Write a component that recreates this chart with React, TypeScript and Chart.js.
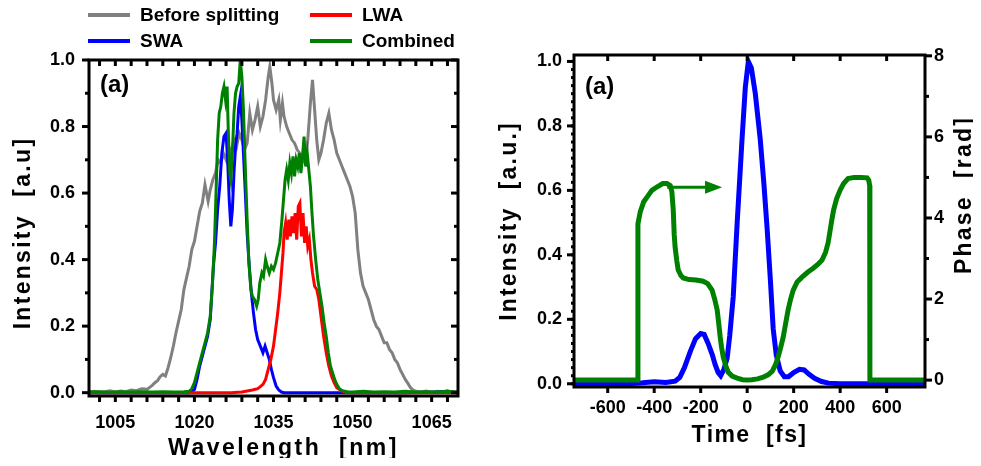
import React, { useEffect, useRef } from "react";
import { Chart, registerables } from "chart.js";

Chart.register(...registerables);

const FONT = "'Liberation Sans', Arial, Helvetica, sans-serif";
const GRAY = "#808080";
const RED = "#ff0000";
const BLUE = "#0000ff";
const GREEN = "#008000";

// ---------------- Panel 1: spectra (wavelength nm, intensity a.u.) ----------------
const beforeSplitting: [number, number][] = [
  [1000, 0.002], [1001, 0.004], [1002, 0.001], [1003, 0.003], [1004, 0.006], [1005, 0.002], [1006, 0.005],
  [1007, 0.003], [1008, 0.008], [1009, 0.006], [1010, 0.012], [1011, 0.01], [1011.5, 0.016], [1012, 0.022],
  [1012.5, 0.03], [1013, 0.036], [1013.5, 0.048], [1014, 0.055], [1014.5, 0.05], [1015, 0.075], [1015.5, 0.105],
  [1016, 0.14], [1016.5, 0.18], [1017, 0.215], [1017.5, 0.25], [1018, 0.31], [1018.5, 0.345], [1019, 0.38],
  [1019.5, 0.43], [1020, 0.455], [1020.5, 0.5], [1021, 0.545], [1021.5, 0.57], [1022, 0.625], [1022.3, 0.6],
  [1022.6, 0.575], [1023, 0.61], [1023.5, 0.64], [1024, 0.66], [1024.5, 0.7], [1025, 0.69], [1025.5, 0.72],
  [1026, 0.7], [1026.5, 0.74], [1027, 0.72], [1027.5, 0.76], [1028, 0.74], [1028.5, 0.78], [1029, 0.76],
  [1029.5, 0.73], [1030, 0.75], [1030.5, 0.84], [1031, 0.79], [1031.5, 0.82], [1032, 0.86], [1032.5, 0.8],
  [1033, 0.83], [1033.5, 0.88], [1034, 0.95], [1034.3, 0.98], [1034.7, 0.93], [1035, 0.88], [1035.5, 0.85],
  [1036, 0.88], [1036.3, 0.82], [1036.7, 0.87], [1037, 0.83], [1037.5, 0.8], [1038, 0.78], [1038.5, 0.76],
  [1039, 0.75], [1039.5, 0.73], [1040, 0.72], [1040.5, 0.7], [1041, 0.69], [1041.5, 0.76], [1042, 0.87],
  [1042.4, 0.94], [1042.8, 0.85], [1043.2, 0.76], [1043.6, 0.7], [1044, 0.72], [1044.5, 0.76], [1045, 0.81],
  [1045.5, 0.84], [1046, 0.79], [1046.5, 0.76], [1047, 0.72], [1047.5, 0.7], [1048, 0.68], [1048.5, 0.66],
  [1049, 0.64], [1049.5, 0.62], [1050, 0.59], [1050.5, 0.54], [1051, 0.43], [1051.5, 0.36], [1052, 0.32],
  [1052.5, 0.3], [1053, 0.28], [1053.5, 0.25], [1054, 0.22], [1054.5, 0.2], [1055, 0.19], [1055.5, 0.17],
  [1056, 0.15], [1056.5, 0.15], [1057, 0.13], [1057.5, 0.12], [1058, 0.1], [1058.5, 0.09], [1059, 0.07],
  [1059.5, 0.055], [1060, 0.04], [1060.5, 0.028], [1061, 0.015], [1061.5, 0.008], [1062, 0.004], [1063, 0.002],
  [1064, 0.005], [1065, 0.001], [1066, 0.004], [1067, 0.002], [1068, 0.005], [1069, 0.001], [1070, 0.003],
];

const swa: [number, number][] = [
  [1000, 0], [1010, 0], [1019, 0], [1019.5, 0.003], [1020, 0.01], [1020.5, 0.04], [1021, 0.08], [1021.5, 0.11],
  [1022, 0.14], [1022.5, 0.17], [1023, 0.22], [1023.3, 0.3], [1023.6, 0.38], [1024, 0.45], [1024.4, 0.55],
  [1024.8, 0.62], [1025.2, 0.72], [1025.6, 0.77], [1026, 0.78], [1026.3, 0.7], [1026.6, 0.58], [1026.9, 0.5],
  [1027.2, 0.55], [1027.5, 0.66], [1027.8, 0.74], [1028.1, 0.78], [1028.4, 0.86], [1028.7, 0.89], [1029, 0.82],
  [1029.3, 0.72], [1029.6, 0.62], [1030, 0.48], [1030.4, 0.38], [1030.8, 0.3], [1031.2, 0.24], [1031.6, 0.19],
  [1032, 0.16], [1032.5, 0.14], [1033, 0.12], [1033.4, 0.14], [1033.8, 0.12], [1034.2, 0.1], [1034.6, 0.07],
  [1035, 0.045], [1035.5, 0.02], [1036, 0.008], [1036.5, 0.002], [1037, 0], [1060, 0], [1066, 0.002], [1068, 0.004], [1070, 0],
];

const lwa: [number, number][] = [
  [1000, 0], [1019, 0], [1027, 0], [1029, 0.002], [1030, 0.005], [1031, 0.008], [1032, 0.012], [1032.5, 0.018],
  [1033, 0.025], [1033.5, 0.04], [1034, 0.07], [1034.5, 0.1], [1035, 0.14], [1035.4, 0.19], [1035.8, 0.24],
  [1036.2, 0.3], [1036.5, 0.36], [1036.8, 0.42], [1037, 0.48], [1037.3, 0.51], [1037.6, 0.46], [1037.9, 0.52],
  [1038.2, 0.47], [1038.5, 0.53], [1038.8, 0.48], [1039.1, 0.54], [1039.4, 0.46], [1039.7, 0.56], [1040, 0.57],
  [1040.3, 0.47], [1040.6, 0.54], [1040.9, 0.45], [1041.2, 0.5], [1041.5, 0.44], [1041.8, 0.46], [1042.1, 0.4],
  [1042.4, 0.36], [1042.8, 0.32], [1043.2, 0.31], [1043.6, 0.28], [1044, 0.23], [1044.5, 0.17], [1045, 0.12],
  [1045.5, 0.08], [1046, 0.05], [1046.5, 0.03], [1047, 0.015], [1048, 0.005], [1049, 0], [1070, 0],
];

const combined: [number, number][] = [
  [1000, 0.002], [1002, 0.003], [1004, 0.001], [1006, 0.003], [1008, 0.002], [1010, 0.003], [1012, 0.002],
  [1014, 0.003], [1016, 0.002], [1018, 0.003], [1019, 0.004], [1019.5, 0.012], [1020, 0.03], [1020.5, 0.06],
  [1021, 0.09], [1021.5, 0.12], [1022, 0.15], [1022.5, 0.18], [1023, 0.23], [1023.4, 0.32], [1023.8, 0.45],
  [1024.1, 0.6], [1024.4, 0.76], [1024.7, 0.84], [1025, 0.86], [1025.3, 0.9], [1025.6, 0.92], [1025.9, 0.88],
  [1026.2, 0.92], [1026.4, 0.8], [1026.7, 0.66], [1026.9, 0.64], [1027.2, 0.72], [1027.5, 0.84], [1027.8, 0.9],
  [1028.1, 0.92], [1028.4, 0.93], [1028.7, 1.0], [1029, 0.95], [1029.3, 0.85], [1029.6, 0.7], [1030, 0.52],
  [1030.3, 0.4], [1030.7, 0.31], [1031, 0.29], [1031.4, 0.28], [1031.8, 0.26], [1032.1, 0.28], [1032.4, 0.33],
  [1032.8, 0.36], [1033.1, 0.35], [1033.5, 0.4], [1033.8, 0.38], [1034.2, 0.36], [1034.6, 0.38], [1035, 0.37],
  [1035.4, 0.39], [1035.8, 0.42], [1036.2, 0.45], [1036.6, 0.52], [1036.9, 0.58], [1037.2, 0.64], [1037.5, 0.67],
  [1037.8, 0.64], [1038.1, 0.69], [1038.4, 0.66], [1038.7, 0.71], [1039, 0.65], [1039.3, 0.7], [1039.6, 0.68],
  [1039.9, 0.72], [1040.2, 0.66], [1040.5, 0.71], [1040.8, 0.77], [1041.1, 0.68], [1041.4, 0.72], [1041.7, 0.67],
  [1042, 0.62], [1042.3, 0.54], [1042.6, 0.47], [1043, 0.4], [1043.4, 0.34], [1043.8, 0.3], [1044.2, 0.26],
  [1044.6, 0.21], [1045, 0.17], [1045.4, 0.12], [1045.8, 0.08], [1046.2, 0.06], [1046.6, 0.04], [1047, 0.025],
  [1047.5, 0.012], [1048, 0.006], [1049, 0.003], [1050, 0.002], [1052, 0.004], [1054, 0.002], [1056, 0.003],
  [1058, 0.002], [1060, 0.004], [1062, 0.002], [1064, 0.003], [1066, 0.002], [1068, 0.004], [1070, 0.002],
];

const wavelengthTickLabels = [1005, 1020, 1035, 1050, 1065];
const intensityTickLabels = [0, 0.2, 0.4, 0.6, 0.8, 1.0];
const legendRows: [string, string][][] = [
  [["Before splitting", GRAY], ["LWA", RED]],
  [["SWA", BLUE], ["Combined", GREEN]],
];

// ---------------- Panel 2: temporal pulse (time fs) ----------------
const pulseIntensity: [number, number][] = [
  [-745, 0], [-600, 0.001], [-500, 0.001], [-450, 0.003], [-400, 0.006], [-350, 0.004], [-310, 0.008],
  [-290, 0.02], [-270, 0.05], [-245, 0.1], [-222, 0.14], [-200, 0.156], [-185, 0.153], [-168, 0.125],
  [-150, 0.09], [-138, 0.06], [-125, 0.035], [-114, 0.025], [-100, 0.045], [-86, 0.08], [-75, 0.15],
  [-60, 0.27], [-43, 0.5], [-22, 0.76], [-8, 0.92], [5, 1.0], [18, 0.98], [35, 0.9], [56, 0.76], [72, 0.62],
  [86, 0.48], [100, 0.32], [112, 0.17], [125, 0.09], [142, 0.04], [160, 0.022], [178, 0.022], [200, 0.035],
  [225, 0.045], [245, 0.043], [265, 0.03], [290, 0.017], [320, 0.007], [350, 0.002], [400, 0], [500, 0],
  [600, 0], [765, 0],
];

const pulsePhase: [number, number][] = [
  [-745, 0], [-600, 0], [-473, 0], [-470, 3.85], [-460, 4.15], [-445, 4.4], [-430, 4.52], [-410, 4.68],
  [-387, 4.77], [-363, 4.85], [-345, 4.85], [-331, 4.8], [-324, 4.65], [-318, 4.2], [-314, 3.6], [-310, 3.28],
  [-303, 2.95], [-297, 2.72], [-285, 2.58], [-275, 2.52], [-250, 2.48], [-220, 2.47], [-190, 2.44],
  [-170, 2.38], [-151, 2.22], [-140, 2.0], [-129, 1.73], [-122, 1.38], [-116, 1.06], [-110, 0.8], [-103, 0.57],
  [-92, 0.35], [-82, 0.2], [-65, 0.1], [-43, 0.05], [-20, 0.01], [0, 0], [20, 0.01], [45, 0.03], [69, 0.07],
  [90, 0.13], [108, 0.22], [122, 0.38], [133, 0.57], [144, 0.8], [155, 1.06], [165, 1.38], [176, 1.73],
  [187, 2.0], [198, 2.22], [215, 2.42], [236, 2.54], [260, 2.66], [284, 2.76], [305, 2.86], [322, 2.96],
  [337, 3.15], [348, 3.38], [357, 3.7], [365, 3.98], [372, 4.2], [385, 4.48], [400, 4.69], [415, 4.85],
  [434, 4.97], [460, 5.0], [490, 5.0], [516, 4.99], [523, 4.93], [527, 4.8], [528, 0], [765, 0],
];

const timeTickLabels = [-600, -400, -200, 0, 200, 400, 600];
const phaseTickLabels = [0, 2, 4, 6, 8];
const phaseArrowFrom: [number, number] = [-344, 4.76];
const phaseArrowTo: [number, number] = [-108, 4.76];

// ---------------- helpers ----------------
function range(start: number, stop: number, step: number): number[] {
  const out: number[] = [];
  const n = Math.round((stop - start) / step);
  for (let i = 0; i <= n; i++) out.push(Number((start + i * step).toFixed(4)));
  return out;
}
const xy = (pts: [number, number][]) => pts.map(([x, y]) => ({ x, y }));
const font = (size: number) => ({ family: FONT, size, weight: "bold" as const });

type TickSet = { scale: string; side: string; values: number[]; len: number; dir: number };
type Decor = {
  tickSets: TickSet[];
  label: { text: string; dx: number; dy: number; size: number };
  arrow?: { from: [number, number]; to: [number, number]; x: string; y: string; color: string };
  sideTitle?: { text: string; dxFromRight: number; dyFromTop: number; size: number; spacing: number };
};

function makeDecor(id: string, cfg: Decor) {
  return {
    id,
    afterDraw(chart: any) {
      const ctx = chart.ctx;
      const a = chart.chartArea;
      const scales = chart.scales;
      ctx.save();
      ctx.fillStyle = "#000";
      ctx.font = `bold ${cfg.label.size}px ${FONT}`;
      ctx.textAlign = "left";
      ctx.textBaseline = "middle";
      ctx.fillText(cfg.label.text, a.left + cfg.label.dx, a.top + cfg.label.dy);
      cfg.tickSets.forEach((t) => {
        const sc = scales[t.scale];
        t.values.forEach((v) => {
          const p = sc.getPixelForValue(v);
          const L = t.len;
          if (t.side === "bottom") ctx.fillRect(p - 1.5, t.dir > 0 ? a.bottom : a.bottom - L, 3, L);
          else if (t.side === "top") ctx.fillRect(p - 1.5, t.dir > 0 ? a.top - L : a.top, 3, L);
          else if (t.side === "left") ctx.fillRect(t.dir > 0 ? a.left - L : a.left, p - 1.5, L, 3);
          else ctx.fillRect(t.dir > 0 ? a.right : a.right - L, p - 1.5, L, 3);
        });
      });
      ctx.strokeStyle = "#000";
      ctx.lineWidth = 3;
      ctx.strokeRect(a.left, a.top, a.right - a.left, a.bottom - a.top);
      if (cfg.arrow) {
        const xs = scales[cfg.arrow.x];
        const ys = scales[cfg.arrow.y];
        const x1 = xs.getPixelForValue(cfg.arrow.from[0]);
        const y1 = ys.getPixelForValue(cfg.arrow.from[1]);
        const x2 = xs.getPixelForValue(cfg.arrow.to[0]);
        const y2 = ys.getPixelForValue(cfg.arrow.to[1]);
        const head = 17;
        ctx.strokeStyle = cfg.arrow.color;
        ctx.fillStyle = cfg.arrow.color;
        ctx.lineWidth = 3;
        ctx.beginPath();
        ctx.moveTo(x1, y1);
        ctx.lineTo(x2 - head + 2, y2);
        ctx.stroke();
        ctx.beginPath();
        ctx.moveTo(x2, y2);
        ctx.lineTo(x2 - head, y2 - 6.5);
        ctx.lineTo(x2 - head, y2 + 6.5);
        ctx.closePath();
        ctx.fill();
      }
      if (cfg.sideTitle) {
        const s = cfg.sideTitle;
        ctx.save();
        ctx.translate(a.right + s.dxFromRight, a.top + s.dyFromTop);
        ctx.rotate(-Math.PI / 2);
        ctx.font = `bold ${s.size}px ${FONT}`;
        ctx.letterSpacing = `${s.spacing}px`;
        ctx.textAlign = "center";
        ctx.textBaseline = "middle";
        ctx.fillStyle = "#000";
        ctx.fillText(s.text, 0, 0);
        ctx.restore();
      }
      ctx.restore();
    },
  };
}

function styledTitle(spacing: number, dx: number, dy: number, size?: number) {
  return (scale: any) => {
    if (size !== undefined) {
      if (scale.isHorizontal()) scale.height = size;
      else scale.width = size;
    }
    if (scale._titlePatched) return;
    scale._titlePatched = true;
    const orig = scale.drawTitle;
    scale.drawTitle = function (...args: any[]) {
      const ctx = this.ctx;
      ctx.save();
      ctx.letterSpacing = `${spacing}px`;
      ctx.translate(dx, dy);
      orig.apply(this, args);
      ctx.restore();
    };
  };
}

const fixedTicks = (values: number[]) => (axis: any) => {
  axis.ticks = values.map((v) => ({ value: v }));
};

const noGrid = { display: false, drawTicks: false };

const lineDs = (label: string, pts: [number, number][], color: string, width: number, yAxisID = "y") => ({
  label,
  data: xy(pts),
  borderColor: color,
  backgroundColor: color,
  borderWidth: width,
  pointRadius: 0,
  yAxisID,
});

export default function App() {
  const leftRef = useRef<HTMLCanvasElement>(null);
  const rightRef = useRef<HTMLCanvasElement>(null);

  useEffect(() => {
    const left = new Chart(leftRef.current as HTMLCanvasElement, {
      type: "line",
      data: {
        datasets: [
          lineDs("Combined", combined, GREEN, 3),
          lineDs("LWA", lwa, RED, 3),
          lineDs("SWA", swa, BLUE, 3),
          lineDs("Before splitting", beforeSplitting, GRAY, 3),
        ] as any,
      },
      options: {
        animation: false,
        responsive: false,
        devicePixelRatio: 1,
        layout: { padding: { top: 60, right: 22, left: 0, bottom: 0 } },
        plugins: { legend: { display: false }, tooltip: { enabled: false } },
        scales: {
          x: {
            type: "linear",
            min: 1000,
            max: 1070,
            afterBuildTicks: fixedTicks(wavelengthTickLabels),
            afterFit: styledTitle(2.5, 10, 0, 70),
            grid: noGrid,
            border: { display: false },
            ticks: { font: font(18), color: "#000", padding: 16, maxRotation: 0, autoSkip: false, callback: (v: any) => String(v) },
            title: { display: true, text: "Wavelength  [nm]", font: font(23), color: "#000", padding: { top: 0, bottom: 4 } },
          },
          y: {
            type: "linear",
            min: -0.01,
            max: 1.0,
            afterBuildTicks: fixedTicks(intensityTickLabels),
            afterFit: styledTitle(2.3, 0, 5, 89),
            grid: noGrid,
            border: { display: false },
            ticks: { font: font(18), color: "#000", padding: 14, autoSkip: false, callback: (v: any) => Number(v).toFixed(1) },
            title: { display: true, text: "Intensity  [a.u]", font: font(23), color: "#000", padding: { top: 10, bottom: 0 } },
          },
        },
      } as any,
      plugins: [
        makeDecor("decorLeft", {
          tickSets: [
            { scale: "x", side: "bottom", values: range(1002, 1068, 3), len: 6, dir: 1 },
            { scale: "x", side: "top", values: range(1002, 1068, 3), len: 6, dir: -1 },
            { scale: "y", side: "left", values: range(0, 1, 0.2), len: 7, dir: 1 },
            { scale: "y", side: "left", values: range(0.1, 0.9, 0.2), len: 4, dir: 1 },
            { scale: "y", side: "right", values: range(0, 1, 0.2), len: 7, dir: -1 },
            { scale: "y", side: "right", values: range(0.1, 0.9, 0.2), len: 4, dir: -1 },
          ],
          label: { text: "(a)", dx: 11, dy: 25, size: 24 },
        }) as any,
      ],
    });

    const right = new Chart(rightRef.current as HTMLCanvasElement, {
      type: "line",
      data: {
        datasets: [
          lineDs("Phase", pulsePhase, GREEN, 5, "y2"),
          lineDs("Intensity", pulseIntensity, BLUE, 5, "y"),
        ] as any,
      },
      options: {
        animation: false,
        responsive: false,
        devicePixelRatio: 1,
        layout: { padding: { top: 55, right: 0, left: 0, bottom: 0 } },
        plugins: { legend: { display: false }, tooltip: { enabled: false } },
        scales: {
          x: {
            type: "linear",
            min: -745,
            max: 765,
            afterBuildTicks: fixedTicks(timeTickLabels),
            afterFit: styledTitle(1.4, 0, 0, 79),
            grid: noGrid,
            border: { display: false },
            ticks: { font: font(18), color: "#000", padding: 10, maxRotation: 0, autoSkip: false, callback: (v: any) => String(v) },
            title: { display: true, text: "Time  [fs]", font: font(23), color: "#000", padding: { top: 0, bottom: 17 } },
          },
          y: {
            type: "linear",
            position: "left",
            min: -0.01,
            max: 1.02,
            afterBuildTicks: fixedTicks(intensityTickLabels),
            afterFit: styledTitle(2.2, 0, 0, 84),
            grid: noGrid,
            border: { display: false },
            ticks: { font: font(18), color: "#000", padding: 12, autoSkip: false, callback: (v: any) => Number(v).toFixed(1) },
            title: { display: true, text: "Intensity  [a.u.]", font: font(23), color: "#000", padding: { top: 6, bottom: 0 } },
          },
          y2: {
            type: "linear",
            position: "right",
            min: -0.17,
            max: 8.02,
            afterBuildTicks: fixedTicks(phaseTickLabels),
            afterFit: (s: any) => { s.width = 56; },
            grid: noGrid,
            border: { display: false },
            ticks: { font: font(18), color: "#000", padding: 9, autoSkip: false, callback: (v: any) => String(v) },
          },
        },
      } as any,
      plugins: [
        makeDecor("decorRight", {
          tickSets: [
            { scale: "x", side: "bottom", values: range(-600, 600, 200), len: 6, dir: 1 },
            { scale: "x", side: "top", values: range(-600, 600, 200), len: 6, dir: -1 },
            { scale: "y", side: "left", values: range(0, 1, 0.2), len: 7, dir: 1 },
            { scale: "y", side: "left", values: range(0, 1, 0.025), len: 3, dir: 1 },
            { scale: "y2", side: "right", values: range(0, 8, 2), len: 7, dir: 1 },
            { scale: "y2", side: "right", values: range(1, 7, 2), len: 4, dir: 1 },
          ],
          label: { text: "(a)", dx: 11, dy: 32, size: 24 },
          arrow: { from: phaseArrowFrom, to: phaseArrowTo, x: "x", y: "y2", color: GREEN },
          sideTitle: { text: "Phase  [rad]", dxFromRight: 40, dyFromTop: 140, size: 23, spacing: 2.2 },
        }) as any,
      ],
    });

    return () => {
      left.destroy();
      right.destroy();
    };
  }, []);

  const legendCols = [88, 310];
  const legendRowCenters = [15, 41];

  return (
    <div style={{ position: "relative", margin: -8, width: 981, height: 466, background: "#fff" }}>
      <div style={{ display: "flex", flexDirection: "row", alignItems: "flex-start" }}>
        <canvas ref={leftRef} width={480} height={466} />
        <div style={{ width: 10, flex: "none" }} />
        <canvas ref={rightRef} width={491} height={466} />
      </div>
      {legendRows.map((row, r) =>
        row.map(([label, color], c) => (
          <div
            key={label}
            style={{
              position: "absolute",
              left: legendCols[c],
              top: legendRowCenters[r] - 11,
              height: 22,
              display: "flex",
              alignItems: "center",
              fontFamily: FONT,
              fontWeight: "bold",
              fontSize: 19,
              lineHeight: "22px",
              color: "#000",
              whiteSpace: "nowrap",
            }}
          >
            <span style={{ display: "inline-block", width: 42, height: 4, background: color, marginRight: 10 }} />
            <span>{label}</span>
          </div>
        ))
      )}
    </div>
  );
}
